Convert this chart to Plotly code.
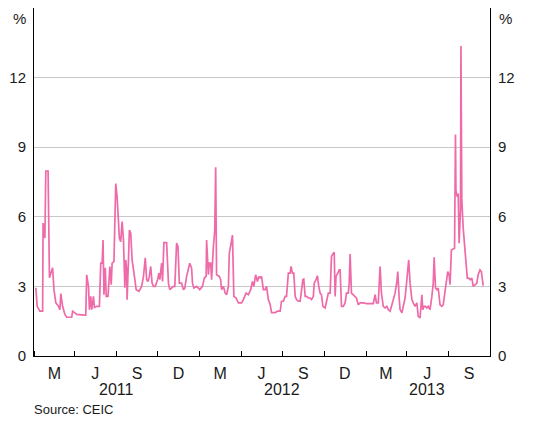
import pandas as pd
import plotly.graph_objects as go

# Days since 2011-01-01 and overnight rate (%)
day_offsets = [4, 7, 13, 19, 20, 24, 26, 31, 34, 37, 41, 44, 48, 54, 57, 59, 63, 68, 72, 83,
               85, 90, 94, 112, 114, 116, 120, 122, 125, 127, 131, 133, 138, 144, 147, 150, 152, 154, 157, 159,
               163, 167, 170, 172, 176, 180, 183, 188, 191, 194, 197, 200, 202, 204, 205, 208, 210, 213, 216, 220,
               225, 231, 237, 241, 245, 248, 251, 254, 257, 260, 263, 267, 272, 275, 277, 281, 283, 286, 292, 296,
               299, 307, 310, 314, 317, 320, 325, 329, 332, 336, 340, 343, 347, 349, 352, 358, 362, 365, 371, 375,
               379, 380, 384, 386, 389, 391, 395, 398, 400, 402, 408, 411, 413, 417, 421, 424, 428, 430, 434, 437,
               440, 445, 450, 457, 461, 467, 472, 477, 481, 484, 488, 492, 495, 498, 501, 505, 509, 512, 516, 520,
               523, 531, 536, 542, 545, 549, 553, 556, 560, 564, 566, 569, 572, 575, 578, 582, 586, 589, 592, 594,
               597, 600, 604, 608, 611, 615, 617, 621, 624, 627, 630, 633, 636, 641, 644, 648, 652, 655, 659, 661,
               663, 665, 669, 672, 674, 677, 681, 685, 688, 692, 694, 696, 699, 703, 707, 710, 714, 718, 725, 732,
               740, 747, 751, 754, 758, 762, 765, 769, 773, 777, 780, 784, 788, 791, 795, 799, 801, 804, 806, 810,
               813, 817, 821, 823, 825, 828, 832, 835, 839, 843, 846, 850, 854, 856, 859, 862, 865, 868, 872, 876,
               879, 881, 884, 887, 890, 894, 898, 901, 905, 909, 911, 914, 916, 919, 923, 926, 928, 929, 932, 934,
               936, 939, 940, 942, 945, 948, 951, 954, 957, 960, 964, 967, 971, 975, 978, 982, 985, 987, 989]
rates = [2.94, 2.14, 1.93, 1.93, 5.73, 5.08, 7.97, 7.97, 3.37, 3.6, 3.8, 2.86, 2.3, 2.14, 2.0, 2.69, 2.14, 1.79, 1.67, 1.67,
         1.93, 1.86, 1.79, 1.76, 1.76, 3.5, 3.0, 2.0, 2.57, 2.0, 2.57, 2.09, 2.14, 2.14, 4.0, 4.0, 5.0, 2.64, 3.8, 2.57,
         2.57, 3.86, 3.07, 4.0, 4.07, 7.43, 6.86, 5.07, 4.93, 5.79, 5.0, 2.94, 4.14, 3.71, 2.43, 4.14, 5.43, 5.29, 4.14, 3.59,
         2.86, 2.79, 3.0, 3.43, 4.23, 3.29, 3.21, 3.43, 3.86, 3.14, 3.0, 3.0, 3.29, 3.57, 3.29, 4.0, 3.21, 4.89, 4.89, 3.14,
         2.86, 3.0, 3.0, 4.87, 4.71, 3.14, 3.14, 2.86, 2.93, 3.43, 3.71, 4.0, 3.79, 3.14, 2.93, 3.0, 2.93, 2.86, 3.0, 3.36,
         3.43, 5.0, 3.5, 4.0, 4.0, 3.29, 4.71, 5.43, 8.14, 3.5, 3.43, 3.29, 2.86, 3.0, 2.71, 2.64, 3.0, 4.43, 4.86, 5.21,
         2.57, 2.5, 2.29, 2.29, 2.43, 2.71, 2.64, 2.86, 3.21, 3.0, 3.5, 3.21, 3.43, 3.36, 3.43, 2.86, 2.86, 3.0, 2.43, 2.21,
         1.87, 1.87, 1.93, 1.93, 2.36, 2.36, 2.57, 2.57, 3.57, 3.57, 3.86, 3.57, 3.57, 2.57, 2.43, 2.36, 2.36, 2.86, 3.29, 3.31,
         2.57, 2.57, 2.5, 2.5, 2.43, 2.57, 3.14, 3.29, 3.46, 3.0, 2.71, 2.64, 2.14, 2.07, 2.29, 2.71, 2.71, 4.29, 4.43, 4.47,
         2.57, 3.43, 3.57, 3.71, 3.71, 2.14, 2.14, 2.29, 2.71, 2.71, 3.14, 4.4, 2.71, 2.64, 2.57, 2.5, 2.21, 2.29, 2.29, 2.26,
         2.26, 2.26, 2.64, 2.29, 2.29, 3.86, 2.71, 2.14, 2.07, 2.14, 2.0, 1.93, 2.21, 2.43, 2.71, 3.21, 3.64, 2.5, 2.0, 1.86,
         2.14, 2.5, 3.29, 4.0, 4.14, 3.14, 2.43, 2.29, 2.14, 2.29, 1.71, 1.64, 2.64, 2.0, 2.14, 2.14, 2.07, 2.14, 2.0, 2.57,
         3.14, 4.26, 2.93, 2.86, 2.93, 2.21, 2.14, 2.21, 2.86, 3.29, 3.64, 3.5, 3.07, 4.57, 4.6, 4.64, 9.55, 7.14, 6.86, 7.0,
         4.86, 6.29, 13.36, 6.71, 5.51, 4.66, 4.14, 3.36, 3.36, 3.29, 3.36, 3.0, 3.07, 3.14, 3.5, 3.71, 3.64, 3.14, 3.03]

quarter_starts = ["2011-01-01", "2011-04-01", "2011-07-01", "2011-10-01", "2012-01-01", "2012-04-01",
                  "2012-07-01", "2012-10-01", "2013-01-01", "2013-04-01", "2013-07-01", "2013-10-01"]
month_label_dates = ["2011-02-15", "2011-05-16", "2011-08-16", "2011-11-15", "2012-02-15", "2012-05-16",
                     "2012-08-16", "2012-11-15", "2013-02-14", "2013-05-16", "2013-08-16"]
month_labels = ["M", "J", "S", "D", "M", "J", "S", "D", "M", "J", "S"]
year_label_dates = ["2011-07-01", "2012-07-01", "2013-05-16"]
year_labels = ["2011", "2012", "2013"]
y_ticks = [0, 3, 6, 9, 12]

dates = pd.Timestamp("2011-01-01") + pd.to_timedelta(day_offsets, unit="D")

FONT = "Liberation Sans, Arial, sans-serif"
TXT = "#1a1a1a"
fig = go.Figure()
fig.add_trace(go.Scatter(x=dates, y=rates, mode="lines",
                         line=dict(color="#EF6AA8", width=1.7), hoverinfo="skip", showlegend=False))
fig.add_trace(go.Scatter(x=[dates[0]], y=[rates[0]], mode="lines", yaxis="y2",
                         line=dict(color="rgba(0,0,0,0)"), hoverinfo="skip", showlegend=False))

# page body has an 8px margin, so the figure is 8px smaller than the window
fig.update_layout(
    width=535, height=413,
    margin=dict(l=26, r=53, t=0, b=65),
    paper_bgcolor="white", plot_bgcolor="white",
    font=dict(family=FONT, size=15, color=TXT),
    xaxis=dict(type="date", range=["2011-01-01", "2013-10-01"],
               tickmode="array", tickvals=month_label_dates, ticktext=month_labels,
               ticks="outside", ticklen=3, tickcolor="rgba(0,0,0,0)",
               showgrid=False, showline=True, linecolor="black", linewidth=1, mirror=True,
               minor=dict(tickmode="array", tickvals=quarter_starts, ticks="inside",
                          ticklen=5, tickcolor="black", tickwidth=1, showgrid=False),
               tickfont=dict(size=16, family=FONT, color=TXT)),
    yaxis=dict(range=[0, 15], tickmode="array", tickvals=y_ticks,
               ticks="outside", ticklen=4, tickcolor="rgba(0,0,0,0)",
               showgrid=True, gridcolor="#c8c8c8", gridwidth=1, zeroline=False,
               showline=True, linecolor="black", linewidth=1, mirror=True,
               tickfont=dict(size=15, family=FONT, color=TXT)),
    yaxis2=dict(range=[0, 15], overlaying="y", side="right", tickmode="array", tickvals=y_ticks,
                ticks="outside", ticklen=4, tickcolor="rgba(0,0,0,0)",
                showgrid=False, zeroline=False, showline=False,
                tickfont=dict(size=15, family=FONT, color=TXT)),
)

for d, t in zip(year_label_dates, year_labels):
    fig.add_annotation(x=d, y=-0.095, xref="x", yref="paper", text=t, showarrow=False,
                       font=dict(size=16, family=FONT, color=TXT), xanchor="center", yanchor="middle")
fig.add_annotation(x=-0.031, y=0.971, xref="paper", yref="paper", text="%", showarrow=False,
                   xanchor="center", yanchor="middle", font=dict(size=15, family=FONT, color=TXT))
fig.add_annotation(x=1.033, y=0.971, xref="paper", yref="paper", text="%", showarrow=False,
                   xanchor="center", yanchor="middle", font=dict(size=15, family=FONT, color=TXT))
fig.add_annotation(x=-0.004, y=-0.153, xref="paper", yref="paper", text="Source: CEIC", showarrow=False,
                   xanchor="left", yanchor="middle", font=dict(size=13, family=FONT, color=TXT))

fig.write_html("out.html")
